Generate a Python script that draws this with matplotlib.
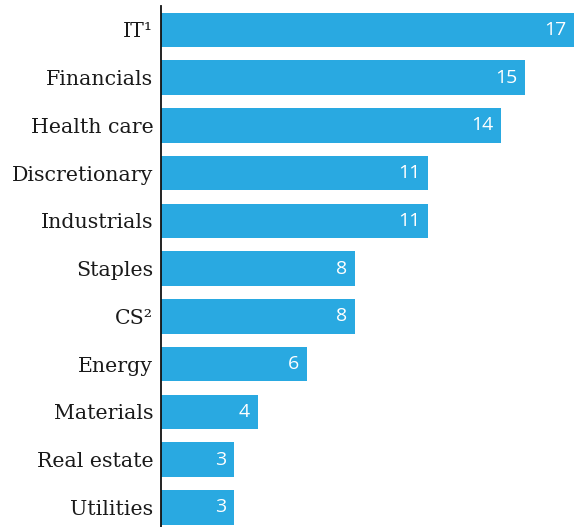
import matplotlib
matplotlib.use("Agg")
import matplotlib.pyplot as plt

sectors = ["IT\u00b9", "Financials", "Health care", "Discretionary", "Industrials",
           "Staples", "CS\u00b2", "Energy", "Materials", "Real estate", "Utilities"]
values = [17, 15, 14, 11, 11, 8, 8, 6, 4, 3, 3]

BLUE = "#29a9e1"

fig = plt.figure(figsize=(5.81, 5.27), dpi=100)
ax = fig.add_axes([161 / 581, 0, 413 / 581, 521 / 527])

pos = list(range(len(sectors)))
ax.barh(pos, values, height=0.72, color=BLUE)
ax.set_xlim(0, 17)
ax.set_ylim(len(sectors) - 1 + 0.41, -0.5)

for p, v in zip(pos, values):
    ax.text(v - 0.33, p, str(v), ha="right", va="center", color="white",
            fontsize=14, family="Open Sans")

ax.set_yticks(pos)
ax.set_yticklabels(sectors, family="DejaVu Serif", fontsize=14.8, color="#1a1a1a")
ax.tick_params(axis="y", length=0, pad=5.5)
ax.set_xticks([])
for s in ("top", "right", "bottom"):
    ax.spines[s].set_visible(False)
ax.spines["left"].set_linewidth(1.3)
ax.spines["left"].set_color("#111111")

fig.savefig("out.png", dpi=100)
